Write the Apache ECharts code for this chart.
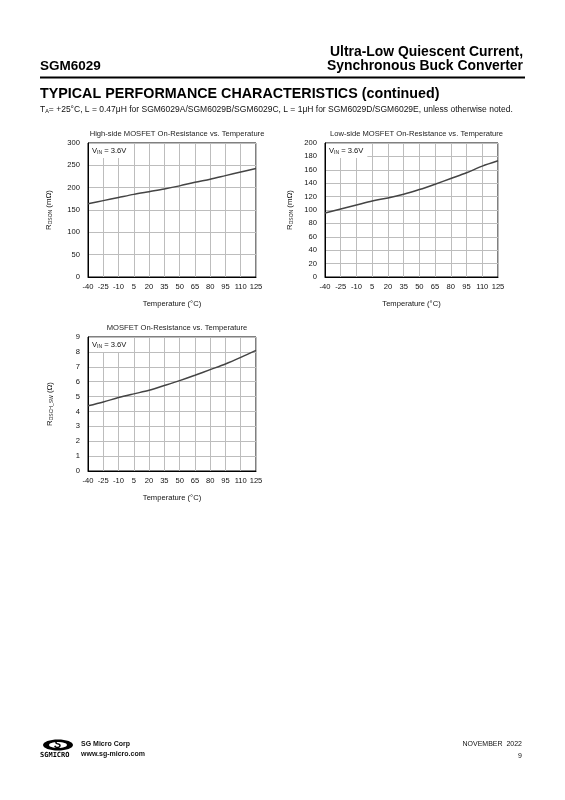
<!DOCTYPE html>
<html><head><meta charset="utf-8">
<script src="https://cdn.jsdelivr.net/npm/echarts@6/dist/echarts.min.js"></script>
<style>html,body{margin:0;padding:0;background:#fff}#c{width:565px;height:800px}</style>
</head><body><div id="c"></div>
<script>
const temps = ['-40','-25','-10','5','20','35','50','65','80','95','110','125'];
const hsRon = [164, 171, 178, 185, 191, 197, 204, 212, 219, 227, 235, 243];
const lsRon = [95.5, 101.5, 107.5, 113.5, 118, 123.5, 130.5, 138.5, 147, 155.5, 165.5, 173.5];
const swRon = [4.38, 4.64, 4.93, 5.18, 5.42, 5.74, 6.07, 6.43, 6.81, 7.19, 7.63, 8.1];
const chartTitles = ['High-side MOSFET On-Resistance vs. Temperature','Low-side MOSFET On-Resistance vs. Temperature','MOSFET On-Resistance vs. Temperature'];

const F = 'Liberation Sans, Arial, sans-serif';
const grids = [
  {left:88, top:143, width:168, height:134},
  {left:325, top:143, width:173, height:134},
  {left:88, top:337, width:168, height:134}
];
const yCfg = [
  {min:0,max:300,interval:50,name:'{r|R}{s|DSON}{r| (mΩ)}',gap:35},
  {min:0,max:200,interval:20,name:'{r|R}{s|DSON}{r| (mΩ)}',gap:31},
  {min:0,max:9,interval:1,name:'{r|R}{s|DSCH_SW}{r| (Ω)}',gap:34}
];
const series = [hsRon, lsRon, swRon];
const nameRich = {r:{fontSize:7.8,fontFamily:F,color:'#111'}, s:{fontSize:5,fontFamily:F,color:'#111',verticalAlign:'bottom',padding:[3,0,0,0]}};

const option = {
  animation:false,
  backgroundColor:'#fff',
  grid: grids.map(g=>Object.assign({show:true,borderColor:'#000',borderWidth:1,backgroundColor:'transparent'},g)),
  xAxis: grids.map((g,i)=>({
    type:'category', gridIndex:i, data:temps, boundaryGap:false,
    axisLine:{lineStyle:{color:'#000',width:1}}, axisTick:{show:false},
    axisLabel:{fontSize:7.6,fontFamily:F,color:'#111',margin:6,interval:0},
    splitLine:{show:true,lineStyle:{color:'#bdbdbd',width:1}},
    name:'Temperature (°C)', nameLocation:'middle', nameGap:23,
    nameTextStyle:{fontSize:7.6,fontFamily:F,color:'#111'}
  })),
  yAxis: yCfg.map((c,i)=>({
    type:'value', gridIndex:i, min:c.min, max:c.max, interval:c.interval,
    axisLine:{show:true,lineStyle:{color:'#000',width:1}}, axisTick:{show:false},
    axisLabel:{fontSize:7.6,fontFamily:F,color:'#111',margin:8},
    splitLine:{show:true,lineStyle:{color:'#bdbdbd',width:1}},
    name:c.name, nameLocation:'middle', nameRotate:90, nameGap:c.gap,
    nameTextStyle:{rich:nameRich}
  })),
  title: grids.map((g,i)=>({
    text: chartTitles[i], left: g.left + g.width/2, top: g.top - 18, textAlign:'center',
    textStyle:{fontSize:7.6,fontFamily:F,color:'#222',fontWeight:'normal'}
  })).concat(grids.map((g,i)=>({
    text:'{r|V}{s|IN}{r| = 3.6V}', left:g.left+1, top:g.top+1,
    backgroundColor:'#fff', padding:[3,4,3,3],
    textStyle:{fontWeight:'normal',rich:{r:{fontSize:7.6,fontFamily:F,color:'#111',fontWeight:'normal'}, s:{fontSize:5,fontFamily:F,color:'#111',fontWeight:'normal',verticalAlign:'bottom',padding:[3,0,0,0]}}}
  }))),
  series: series.map((d,i)=>({
    type:'line', xAxisIndex:i, yAxisIndex:i, data:d, smooth:0.3, showSymbol:false,
    lineStyle:{color:'#444',width:1.5}
  })),
  graphic: [
    {type:'text', left:40, top:59, style:{text:'SGM6029', font:'bold 13.5px '+F, fill:'#000'}},
    {type:'text', right:42, top:45, style:{text:'Ultra-Low Quiescent Current,', font:'bold 13.9px '+F, fill:'#000'}},
    {type:'text', right:42, top:59, style:{text:'Synchronous Buck Converter', font:'bold 13.9px '+F, fill:'#000'}},
    {type:'line', shape:{x1:40,y1:77.5,x2:525,y2:77.5}, style:{stroke:'#000',lineWidth:1.8}},
    {type:'text', left:40, top:87, style:{text:'TYPICAL PERFORMANCE CHARACTERISTICS (continued)', font:'bold 14.3px '+F, fill:'#000'}},
    {type:'text', left:40, top:105, style:{
      text:'{r|T}{s|A}{r|= +25°C, L = 0.47μH for SGM6029A/SGM6029B/SGM6029C, L = 1μH for SGM6029D/SGM6029E, unless otherwise noted.}',
      rich:{r:{fontSize:8.5,fontFamily:F,fill:'#111'}, s:{fontSize:5.5,fontFamily:F,fill:'#111',verticalAlign:'bottom'}}}},
    // footer logo
    {type:'ellipse', shape:{cx:58,cy:745,rx:15,ry:5.5}, style:{fill:'#000'}},
    {type:'ellipse', shape:{cx:58,cy:745,rx:9,ry:3}, style:{fill:'#fff'}},
    {type:'text', left:54, top:739, style:{text:'S', font:'bold italic 11px '+F, fill:'#000'}},
    {type:'text', left:40, top:752, style:{text:'SGMICRO', font:'bold 7px DejaVu Sans Mono, monospace', fill:'#000'}},
    {type:'text', left:81, top:741, style:{text:'SG Micro Corp', font:'bold 7px '+F, fill:'#111'}},
    {type:'text', left:81, top:751, style:{text:'www.sg-micro.com', font:'bold 7px '+F, fill:'#111'}},
    {type:'text', right:43, top:741, style:{text:'NOVEMBER  2022', font:'7px '+F, fill:'#111'}},
    {type:'text', right:43, top:753, style:{text:'9', font:'7px '+F, fill:'#111'}}
  ]
};
echarts.init(document.getElementById('c'),null,{renderer:'canvas'}).setOption(option);
</script></body></html>
